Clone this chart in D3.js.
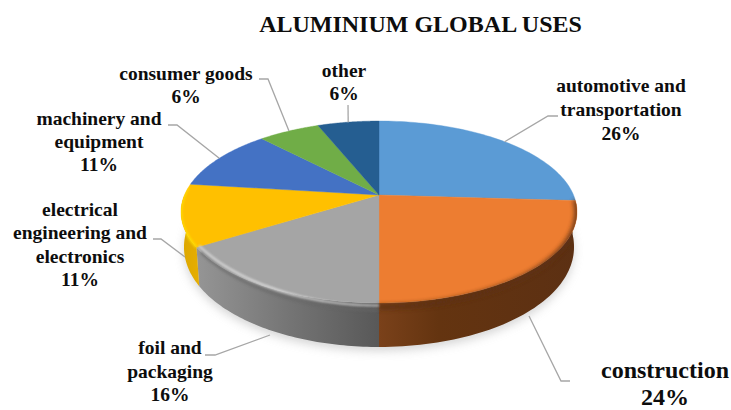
<!DOCTYPE html>
<html>
<head>
<meta charset="utf-8">
<script src="https://cdn.jsdelivr.net/npm/d3@7/dist/d3.min.js"></script>
<style>
html,body{margin:0;padding:0;background:#fff}
text{font-family:"Liberation Serif","Times New Roman",serif;font-weight:bold;fill:#0d0d0d}
</style>
</head>
<body>
<svg id="chart" width="731" height="410"></svg>
<script>
// Share of global aluminium use by sector, in percent
const categories = ["automotive and transportation","construction","foil and packaging",
  "electrical engineering and electronics","machinery and equipment","consumer goods","other"];
const shares = [26, 24, 16, 11, 11, 6, 6];
const topColors  = ["#5b9bd5","#ed7d31","#a5a5a5","#ffc000","#4472c4","#70ad47","#255e91"];
const chartTitle = "ALUMINIUM GLOBAL USES";

// Label blocks: text lines, centre x, first baseline, size, leader path
const labelLines = [
  ["automotive and","transportation","26%"],
  ["construction","24%"],
  ["foil and","packaging","16%"],
  ["electrical","engineering and","electronics","11%"],
  ["machinery and","equipment","11%"],
  ["consumer goods","6%"],
  ["other","6%"]
];
const labelLayout = [
  {x:621, y:92,  size:19.5, lh:24, leader:[[548,116],[558,116]]},
  {x:665, y:378, size:24, lh:26.6, leader:[[561,381],[570,381]], from:[529,316]},
  {x:170, y:354, size:19.5, lh:23.5, leader:[[215,355],[205,355]], from:[270,335]},
  {x:80,  y:216, size:19.5, lh:23.3, leader:[[161,239],[153,239]], from:[185,257]},
  {x:99,  y:125, size:19.5, lh:23, leader:[[177,125],[168,125]]},
  {x:186, y:80,  size:19.5, lh:22.5, leader:[[268,79],[259,79]]},
  {x:344, y:77,  size:19.5, lh:23, leader:[[348,105]]}
];

const svg = d3.select("#chart");
const defs = svg.append("defs");
const blur = (id, s) => defs.append("filter").attr("id", id)
  .attr("filterUnits","userSpaceOnUse").attr("x",0).attr("y",0).attr("width",731).attr("height",410)
  .append("feGaussianBlur").attr("stdDeviation", s);
blur("soft8", 5); blur("soft2", 2); blur("soft1", 1.2);

// Tilted disc: perspective projection of the unit circle onto the page
const apex = {x:379, y:195};
const radiusX = 194.5, radiusY = 87.8, persp = -0.187;
function project(angle, r = 1) {
  const u = r * Math.sin(angle), v = -r * Math.cos(angle), w = 1 + persp * v;
  return [apex.x + radiusX * u / w, apex.y + radiusY * v / w];
}
// Matching point on the lower rim; nearer parts of the rim look deeper
function projectLow(angle) {
  const [x, y] = project(angle);
  const v = -Math.cos(angle);
  return [apex.x + (x - apex.x) * 0.985, y + 33 + 11 * v];
}

const pie = d3.pie().sort(null).value(d => d)(shares);
const sweep = (a0, a1, fn) => d3.range(0, 61).map(i => fn(a0 + (a1 - a0) * i / 60));
const line = d3.line();
const frontStart = Math.PI * 0.5 + 0.11, frontEnd = Math.PI * 1.5 - 0.11;

// Soft shadow under the disc
const outer = sweep(frontStart - 0.2, frontEnd + 0.2, projectLow);
svg.append("path").attr("d", line(outer.map(p => [p[0], p[1] + 4])) + "Z")
  .attr("fill", "#c4c4c4").attr("opacity", 0.7).attr("filter", "url(#soft8)");

// Horizontal gradients for the rim walls and the bright edge of the grey slice
const gradients = [
  {id:"rim1", stops:[[0,"#7a411a"],[0.3,"#643410"],[1,"#5c3013"]], x1:379, x2:577},
  {id:"rim2", stops:[[0,"#959595"],[0.5,"#757575"],[1,"#585858"]], x1:197, x2:379},
  {id:"rim3", stops:[[0,"#dba600"],[1,"#e6ae00"]], x1:180, x2:199},
  {id:"shine", stops:[[0,"#d4d4d4"],[0.45,"#e2e2e2"],[1,"#b8b8b8"]], x1:197, x2:379}
];
gradients.forEach(g => {
  const lg = defs.append("linearGradient").attr("id", g.id).attr("gradientUnits","userSpaceOnUse")
    .attr("x1", g.x1).attr("x2", g.x2).attr("y1", 0).attr("y2", 0);
  g.stops.forEach(s => lg.append("stop").attr("offset", s[0]).attr("stop-color", s[1]));
});

// Rim walls of the slices facing the viewer
pie.forEach((s, i) => {
  const a0 = Math.max(s.startAngle, frontStart - 0.11), a1 = Math.min(s.endAngle, frontEnd + 0.11);
  if (a1 <= a0 || i === 0) return;
  const top = sweep(a0, a1, project), low = sweep(a0, a1, projectLow).reverse();
  svg.append("path").attr("d", line(top.concat(low)) + "Z").attr("fill", `url(#rim${i})`);
});

// Upper faces of the slices
const faces = svg.append("g");
pie.forEach((s, i) => {
  const pts = [[apex.x, apex.y]].concat(sweep(s.startAngle, s.endAngle, project));
  faces.append("path").attr("d", line(pts) + "Z").attr("fill", topColors[i])
    .attr("stroke", topColors[i]).attr("stroke-width", 0.4);
});

// Clip for the edge shading: upper face and wall taken together
const discOutline = sweep(0, Math.PI * 2, project);
const wallOutline = sweep(frontStart - 0.11, frontEnd + 0.11, projectLow).reverse();
defs.append("clipPath").attr("id", "discClip").append("path")
  .attr("d", line(discOutline) + "Z " + line(wallOutline.concat(sweep(frontStart - 0.11, frontEnd + 0.11, project))) + "Z");

// Bevel along the near edge: bands follow the rim with a depth-dependent offset
const nearness = a => -Math.cos(a);
const greyLift = a => -4.5 + 7 * Math.pow((nearness(a) - 0.536) / 0.464, 2);
const bevelLayer = svg.append("g").attr("clip-path", "url(#discClip)");
const bands = [
  {i:1, c:"#5e3013", w:5.5, off:a => -1 + 5 * nearness(a), filt:"soft2", o:0.85},
  {i:2, c:"#666666", w:3, off:a => greyLift(a) + 5, filt:"soft1", o:0.55, skip:0.05},
  {i:2, c:"url(#shine)", w:2.4, off:greyLift, filt:"soft1", o:0.85, skip:0.03},
  {i:3, c:"#ffe100", w:2.5, off:() => 0, filt:"soft1", o:0.9}
];
bands.forEach(b => {
  const s = pie[b.i];
  const a0 = Math.max(s.startAngle, frontStart - 0.05), a1 = Math.min(s.endAngle - (b.skip || 0), frontEnd + 0.2);
  // the rim order runs clockwise, so the grey bands stop short of the yellow slice
  bevelLayer.append("path")
    .attr("d", line(sweep(a0, a1, a => { const p = project(a); return [p[0], p[1] + b.off(a)]; })))
    .attr("fill", "none").attr("stroke", b.c).attr("stroke-width", b.w)
    .attr("opacity", b.o).attr("filter", `url(#${b.filt})`);
});

// Leader lines and labels
pie.forEach((s, i) => {
  const l = labelLayout[i];
  const start = l.from || project((s.startAngle + s.endAngle) / 2);
  svg.append("path").attr("d", line([start].concat(l.leader)))
    .attr("fill","none").attr("stroke","#a6a6a6").attr("stroke-width",1.3);
  const t = svg.append("text").attr("text-anchor","middle").attr("font-size", l.size);
  labelLines[i].forEach((txt, j) =>
    t.append("tspan").attr("x", l.x).attr("y", l.y + j * l.lh).text(txt));
});

svg.append("text").attr("x", 420.5).attr("y", 32).attr("text-anchor","middle")
  .attr("font-size", 24).text(chartTitle);
</script>
</body>
</html>
